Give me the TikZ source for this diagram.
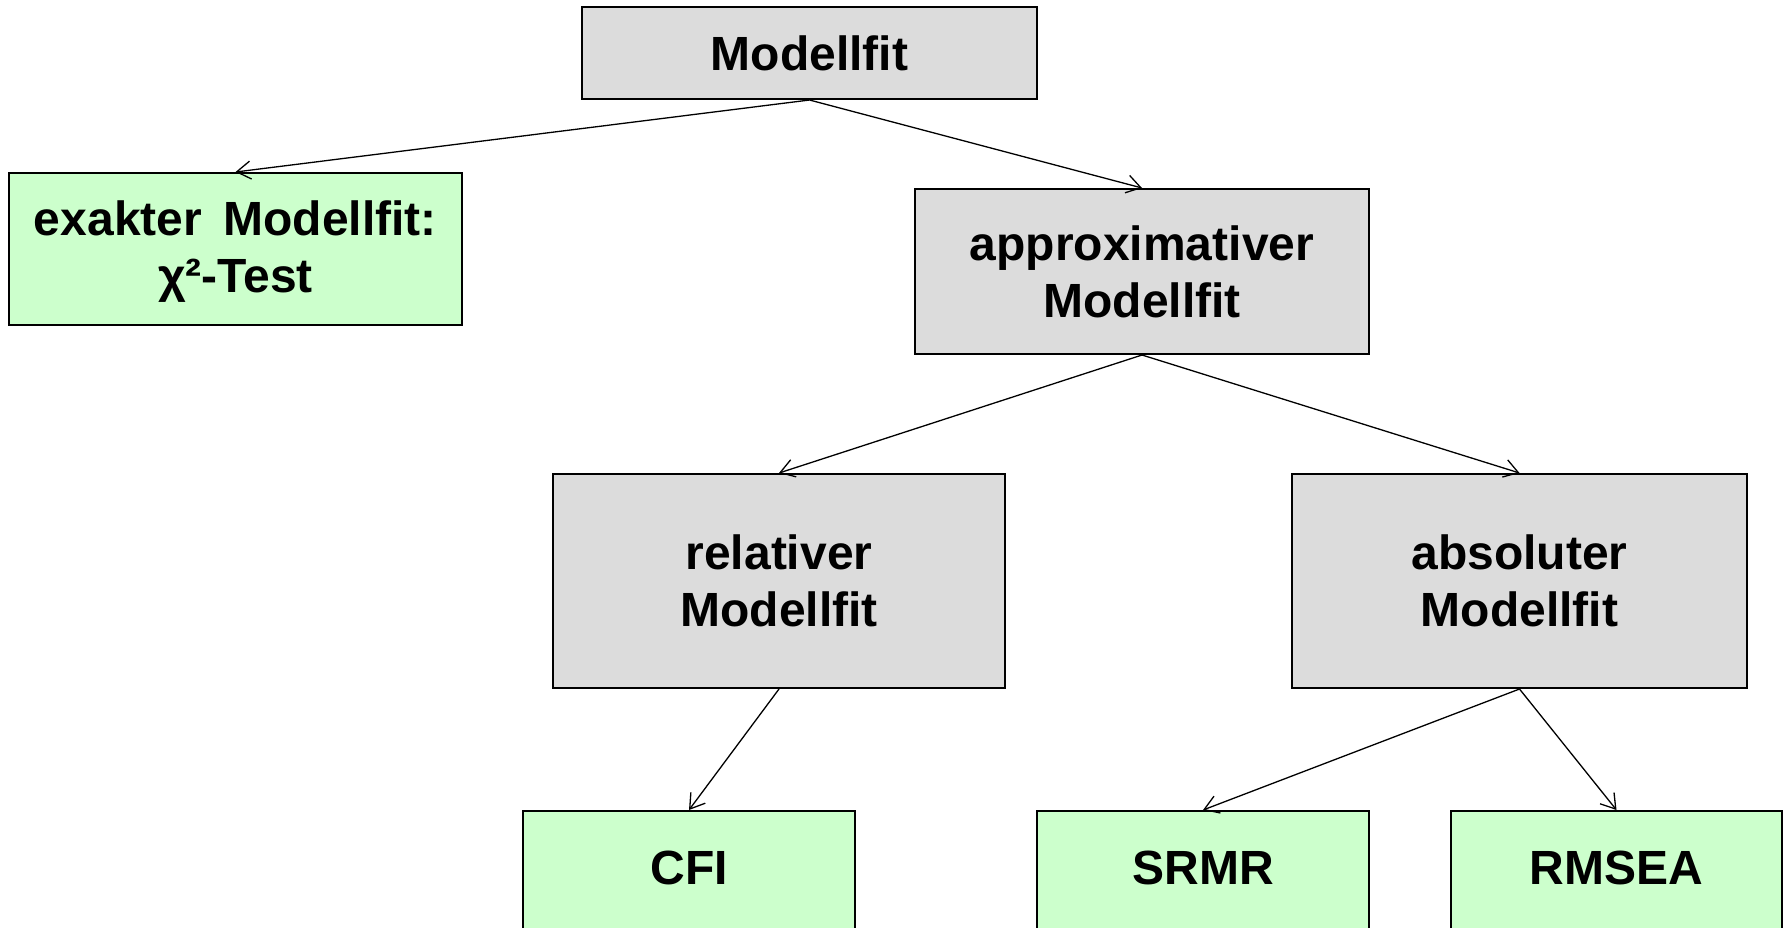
\documentclass[tikz,border=0pt]{standalone}
\usepackage{fontspec}
\setmainfont{Liberation Sans}
\usetikzlibrary{arrows.meta}
\definecolor{boxgray}{HTML}{DCDCDC}
\definecolor{boxgreen}{HTML}{CCFFCC}
\tikzset{
  fitbox/.style={draw=black, line width=1pt, fill=boxgray, align=center,
    font=\fontsize{24}{28.5}\selectfont\bfseries, inner sep=0pt},
  leafbox/.style={fitbox, fill=boxgreen},
  link/.style={-{Straight Barb[length=7pt,width=9pt]}, line width=0.65pt}
}
\begin{document}
\begin{tikzpicture}[x=0.5pt,y=-0.5pt]
    \useasboundingbox (0,0) rectangle (1787,927);
    \clip (0,0) rectangle (1787,927);

    % Top
    \node[fitbox, minimum width=227.5pt, minimum height=46pt] (mf) at (809.5,53) {Modellfit};

    % Second level
    \node[leafbox, minimum width=226.5pt, minimum height=76pt] (ex) at (235.5,249)
        {\rule{0pt}{20pt}exakter\hspace{0.45em}Modellfit:\\χ²-Test};
    \node[fitbox, minimum width=227pt, minimum height=82.5pt] (ap) at (1142,271.5)
        {approximativer\\Modellfit};

    % Third level
    \node[fitbox, minimum width=226pt, minimum height=107pt] (rel) at (779,581)
        {relativer\\Modellfit};
    \node[fitbox, minimum width=227.5pt, minimum height=107pt] (abs) at (1519.5,581)
        {absoluter\\Modellfit};

    % Indices (cut at the bottom)
    \node[leafbox, minimum width=166pt, minimum height=70pt] (cfi) at (689,881) {};
    \node[leafbox, minimum width=166pt, minimum height=70pt] (srmr) at (1203,881) {};
    \node[leafbox, minimum width=165.5pt, minimum height=70pt] (rmsea) at (1616.5,881) {};
    \node[font=\fontsize{24}{28.5}\selectfont\bfseries] at (689,868) {CFI};
    \node[font=\fontsize{24}{28.5}\selectfont\bfseries] at (1203,868) {SRMR};
    \node[font=\fontsize{24}{28.5}\selectfont\bfseries] at (1616.5,868) {RMSEA};

    % Links
    \draw[link] (mf.south) -- (ex.north);
    \draw[link] (mf.south) -- (ap.north);
    \draw[link] (ap.south) -- (rel.north);
    \draw[link] (ap.south) -- (abs.north);
    \draw[link] (rel.south) -- (cfi.north);
    \draw[link] (abs.south) -- (srmr.north);
    \draw[link] (abs.south) -- (rmsea.north);
\end{tikzpicture}
\end{document}
